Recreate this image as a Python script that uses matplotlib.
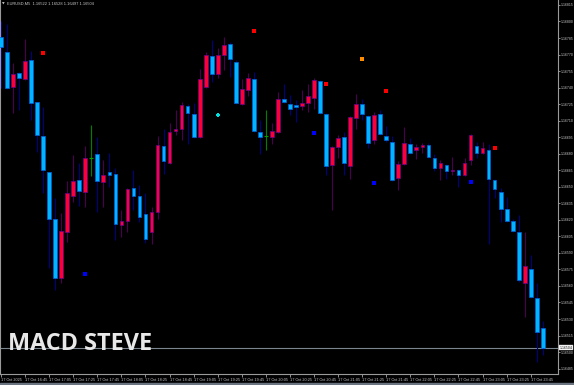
import numpy as np
import matplotlib.pyplot as plt
from matplotlib.patches import Rectangle
import matplotlib.transforms as mtransforms

# EURUSD M5, 17 Oct 2025, one entry per bar
opens = [1.16786, 1.16772, 1.16741, 1.16753, 1.16748, 1.16765, 1.16727, 1.16696, 1.16663, 1.16621,
         1.16567, 1.16609, 1.16642, 1.16656, 1.16645, 1.16676, 1.16680, 1.16654, 1.16663, 1.16662,
         1.16615, 1.16619, 1.16649, 1.16642, 1.16625, 1.16609, 1.16627, 1.16687, 1.16672, 1.16701,
         1.16702, 1.16723, 1.16716, 1.16695, 1.16741, 1.16769, 1.16752, 1.16770, 1.16780, 1.16763,
         1.16725, 1.16738, 1.16748, 1.16700, 1.16696, 1.16695, 1.16700, 1.16730, 1.16725, 1.16724,
         1.16723, 1.16726, 1.16731, 1.16746, 1.16716, 1.16670, 1.16686, 1.16695, 1.16669, 1.16712,
         1.16725, 1.16714, 1.16692, 1.16716, 1.16696, 1.16691, 1.16658, 1.16671, 1.16689, 1.16683,
         1.16686, 1.16688, 1.16676, 1.16667, 1.16670, 1.16664, 1.16665, 1.16661, 1.16674, 1.16687,
         1.16681, 1.16683, 1.16656, 1.16645, 1.16630, 1.16619, 1.16609, 1.16563, 1.16575, 1.16549,
         1.16522]
highs = [1.16800, 1.16798, 1.16762, 1.16754, 1.16784, 1.16773, 1.16727, 1.16722, 1.16663, 1.16640,
         1.16626, 1.16655, 1.16679, 1.16672, 1.16687, 1.16706, 1.16695, 1.16674, 1.16681, 1.16667,
         1.16629, 1.16649, 1.16665, 1.16652, 1.16644, 1.16632, 1.16696, 1.16702, 1.16708, 1.16720,
         1.16727, 1.16725, 1.16726, 1.16757, 1.16772, 1.16783, 1.16776, 1.16786, 1.16781, 1.16765,
         1.16748, 1.16753, 1.16754, 1.16711, 1.16720, 1.16708, 1.16736, 1.16743, 1.16733, 1.16729,
         1.16738, 1.16743, 1.16749, 1.16747, 1.16717, 1.16687, 1.16697, 1.16700, 1.16714, 1.16734,
         1.16730, 1.16715, 1.16718, 1.16720, 1.16705, 1.16696, 1.16673, 1.16704, 1.16694, 1.16689,
         1.16690, 1.16690, 1.16680, 1.16674, 1.16671, 1.16677, 1.16666, 1.16676, 1.16698, 1.16691,
         1.16691, 1.16689, 1.16657, 1.16649, 1.16641, 1.16621, 1.16624, 1.16609, 1.16588, 1.16563,
         1.16528]
lows = [1.16740, 1.16739, 1.16717, 1.16720, 1.16747, 1.16711, 1.16682, 1.16644, 1.16576, 1.16556,
        1.16563, 1.16600, 1.16636, 1.16633, 1.16632, 1.16660, 1.16627, 1.16632, 1.16650, 1.16602,
        1.16604, 1.16609, 1.16629, 1.16618, 1.16599, 1.16598, 1.16621, 1.16662, 1.16671, 1.16697,
        1.16692, 1.16689, 1.16694, 1.16694, 1.16740, 1.16745, 1.16749, 1.16756, 1.16750, 1.16725,
        1.16724, 1.16732, 1.16700, 1.16680, 1.16683, 1.16689, 1.16699, 1.16726, 1.16715, 1.16709,
        1.16720, 1.16718, 1.16721, 1.16716, 1.16661, 1.16629, 1.16676, 1.16661, 1.16657, 1.16702,
        1.16711, 1.16685, 1.16689, 1.16697, 1.16691, 1.16655, 1.16647, 1.16670, 1.16680, 1.16675,
        1.16681, 1.16676, 1.16664, 1.16656, 1.16657, 1.16661, 1.16650, 1.16660, 1.16670, 1.16676,
        1.16680, 1.16598, 1.16640, 1.16618, 1.16618, 1.16609, 1.16564, 1.16532, 1.16549, 1.16491,
        1.16497]
closes = [1.16777, 1.16740, 1.16752, 1.16749, 1.16764, 1.16726, 1.16697, 1.16665, 1.16621, 1.16567,
          1.16610, 1.16644, 1.16655, 1.16646, 1.16676, 1.16676, 1.16655, 1.16661, 1.16661, 1.16616,
          1.16619, 1.16648, 1.16642, 1.16623, 1.16603, 1.16627, 1.16688, 1.16673, 1.16700, 1.16702,
          1.16724, 1.16717, 1.16695, 1.16748, 1.16770, 1.16752, 1.16770, 1.16779, 1.16766, 1.16726,
          1.16739, 1.16749, 1.16701, 1.16695, 1.16696, 1.16701, 1.16730, 1.16727, 1.16721, 1.16722,
          1.16726, 1.16732, 1.16747, 1.16717, 1.16669, 1.16686, 1.16694, 1.16672, 1.16713, 1.16725,
          1.16716, 1.16690, 1.16715, 1.16698, 1.16692, 1.16656, 1.16671, 1.16690, 1.16681, 1.16686,
          1.16688, 1.16677, 1.16667, 1.16672, 1.16664, 1.16665, 1.16661, 1.16672, 1.16697, 1.16681,
          1.16685, 1.16657, 1.16648, 1.16630, 1.16619, 1.16610, 1.16565, 1.16578, 1.16550, 1.16518,
          1.16504]

# indicator arrows drawn on the chart
signal_bars = [7, 14, 36, 42, 52, 54, 60, 62, 64, 78, 82]
signal_prices = [1.16771, 1.16571, 1.16715, 1.16791, 1.16699, 1.16743, 1.16766, 1.16653, 1.16737,
                 1.16654, 1.16685]
signal_kinds = ["sell", "buy", "cross", "sell", "buy", "sell", "alert", "buy", "sell", "buy", "sell"]

time_labels = ["17 Oct 2025", "17 Oct 16:45", "17 Oct 17:05", "17 Oct 17:25", "17 Oct 17:45",
               "17 Oct 18:05", "17 Oct 18:25", "17 Oct 18:45", "17 Oct 19:05", "17 Oct 19:25",
               "17 Oct 19:45", "17 Oct 20:05", "17 Oct 20:25", "17 Oct 20:45", "17 Oct 21:05",
               "17 Oct 21:25", "17 Oct 21:45", "17 Oct 22:05", "17 Oct 22:25", "17 Oct 22:45",
               "17 Oct 23:05", "17 Oct 23:25", "17 Oct 23:45"]

header = "EURUSD,M5  1.16522 1.16528 1.16497 1.16504"

small_font = "Liberation Sans"

W, H = 574, 385
fig = plt.figure(figsize=(W / 100, H / 100), dpi=100, facecolor="black")
ax = fig.add_axes([0, 11 / H, 557.7 / W, 374 / H], facecolor="black")

o = np.array(opens)
c = np.array(closes)
x = np.arange(len(o))

up = c > o
down = c < o
flat = c == o

# wicks first, bodies on top
wick_col = np.where(up, "#4a0050", np.where(down, "#000080", "#008000"))
ax.vlines(x, lows, highs, colors=wick_col, linewidth=0.8, zorder=2)

bw = 0.62
ax.bar(x[up], (c - o)[up], bottom=o[up], width=bw, color="#ff0033",
       edgecolor="#6a0090", linewidth=0.5, zorder=3)
ax.bar(x[down], (o - c)[down], bottom=c[down], width=bw, color="#00b4ff",
       edgecolor="#0060e0", linewidth=0.5, zorder=3)
ax.hlines(o[flat], x[flat] - bw / 2, x[flat] + bw / 2, colors="#00a000", linewidth=0.8, zorder=3)

kind_style = {"sell": ("#ff0000", "s", 5), "buy": ("#0000ff", "s", 5),
              "alert": ("#ff8c00", "s", 6), "cross": ("#00e0e0", "P", 8)}
for b, p, k in zip(signal_bars, signal_prices, signal_kinds):
    col, mk, sz = kind_style[k]
    ax.scatter(b, p, s=sz, marker=mk, color=col, linewidths=0, zorder=4)

# current price line
last = closes[-1]
ax.axhline(last, color="#7a8590", linewidth=0.8, zorder=1)

ax.set_xlim(-0.17, 92.48)
ax.set_ylim(1.164801, 1.168195)

price_ticks = np.arange(1.16815, 1.16480, -0.00015)
ax.yaxis.tick_right()
ax.set_yticks(price_ticks)
ax.set_yticklabels([f"{t:.5f}" for t in price_ticks], family=small_font)
ax.set_xticks(np.arange(len(time_labels)) * 4)
ax.set_xticklabels(time_labels, ha="left", family=small_font)
ax.tick_params(axis="y", labelsize=2.5, colors="#c8c8c8", length=1.5, width=0.5, pad=0.6)
ax.tick_params(axis="x", labelsize=2.8, colors="#c8c8c8", length=2, width=0.5, pad=1)

for s in ["right", "bottom", "left"]:
    ax.spines[s].set_color("#9a9a9a")
    ax.spines[s].set_linewidth(0.8)
ax.spines["top"].set_visible(False)

trans = mtransforms.blended_transform_factory(ax.transAxes, ax.transData)
ax.text(1.003, last, f"{last:.5f}", transform=trans, fontsize=2.5, color="black",
        family=small_font, va="center", ha="left", clip_on=False,
        bbox=dict(boxstyle="square,pad=0.2", fc="white", ec="#c0c0c0", lw=0.3))

fig.text(2 / W, 1 - 4 / H, "\u25bc", fontsize=2.5, color="#c8c8c8", va="center", ha="left")
fig.text(7 / W, 1 - 4 / H, header, fontsize=2.9, color="#c8c8c8", family=small_font,
         va="center", ha="left")

fig.text(8 / W, 1 - 350 / H, "MACD STEVE", fontsize=16.8, fontweight="bold",
         family=["Open Sans", "DejaVu Sans"], color="#e8e8e8", va="baseline", ha="left")

fig.patches.append(Rectangle((0, 0), 1, 2.5 / H, transform=fig.transFigure,
                             color="#6a7480", zorder=0))

fig.savefig("out.png", dpi=100, facecolor="black")
